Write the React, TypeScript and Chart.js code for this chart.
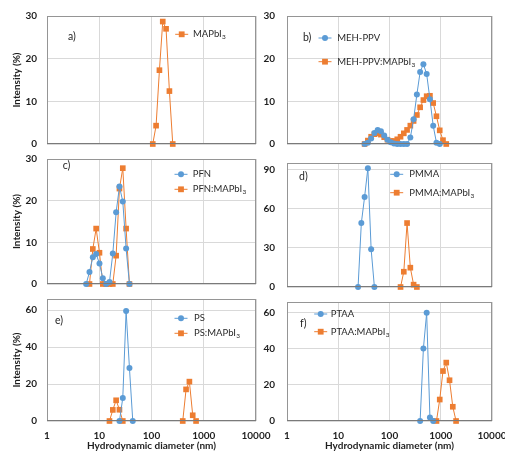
import React, { useEffect, useRef } from "react";
import { Chart, registerables } from "chart.js";
Chart.register(...registerables);

// ---------- data ----------
const xTicks = [1, 10, 100, 1000, 10000];
const yTicks30 = [0, 10, 20, 30];
const yTicks90 = [0, 30, 60, 90];
const yTicks60 = [0, 20, 40, 60];

// a) MAPbI3
const aX = [105.7, 122.4, 141.8, 164.2, 190.1, 220.2, 255.0];
const aMAPbI3 = [0, 4.3, 17.3, 28.7, 27.0, 12.4, 0];

// b) MEH-PPV
const bMehX = [32.67, 37.84, 43.82, 50.75, 58.77, 68.06, 78.82, 91.28, 105.7, 122.4, 141.8, 164.2, 190.1, 220.2, 255.0, 295.3, 342.0, 396.1, 458.7, 531.2, 615.1, 712.4, 825.0, 955.4];
const bMeh = [0, 0.3, 1.3, 2.6, 3.3, 3.0, 2.0, 1.0, 0.4, 0.1, 0, 0, 0, 0, 1.5, 5.8, 11.6, 16.9, 18.7, 16.4, 10.5, 4.3, 0.3, 0];
const bMehMAPbI3X = [32.67, 37.84, 43.82, 50.75, 58.77, 68.06, 78.82, 91.28, 105.7, 122.4, 141.8, 164.2, 190.1, 220.2, 255.0, 295.3, 342.0, 396.1, 458.7, 531.2, 615.1, 712.4, 825.0, 955.4, 1106, 1281];
const bMehMAPbI3 = [0, 0.8, 1.7, 2.3, 2.5, 2.2, 1.6, 1.0, 0.7, 0.7, 1.1, 1.7, 2.5, 3.3, 4.3, 5.4, 6.8, 8.6, 10.3, 11.2, 11.3, 9.6, 6.5, 3.2, 0.9, 0];

// c) PFN
const cPfnX = [5.615, 6.503, 7.531, 8.721, 10.10, 11.70, 13.54, 15.69, 18.17, 21.04, 24.36, 28.21, 32.67, 37.84];
const cPfn = [0, 2.9, 6.4, 7.2, 4.9, 1.4, 0, 0.5, 7.3, 17.2, 23.4, 19.8, 8.5, 0];
const cPfnMAPbI3X = [6.503, 7.531, 8.721, 10.10, 11.70, 13.54, 15.69, 18.17, 21.04, 24.36, 28.21, 32.67, 37.84];
const cPfnMAPbI3 = [0, 8.4, 13.3, 7.5, 0, 0, 0, 0, 6.8, 22.9, 27.8, 13.3, 0];

// d) PMMA
const dPmmaX = [24.36, 28.21, 32.67, 37.84, 43.82, 50.75];
const dPmma = [0, 49, 69, 91, 29, 0];
const dPmmaMAPbI3X = [164.2, 190.1, 220.2, 255.0, 295.3, 342.0];
const dPmmaMAPbI3 = [0, 11.7, 49, 14.8, 1.8, 0];

// e) PS
const ePsX = [24.36, 28.21, 32.67, 37.84, 43.82];
const ePs = [0, 12.5, 59.5, 28.7, 0];
const ePsMAPbI3X = [15.69, 18.17, 21.04, 24.36, 28.21, 100, 396.1, 458.7, 531.2, 615.1, 712.4];
const ePsMAPbI3 = [0, 6.0, 11.2, 6.1, 0, null, 0, 17.1, 21.3, 3.1, 0];

// f) PTAA
const fPtaaX = [396.1, 458.7, 531.2, 615.1, 712.4];
const fPtaa = [0, 40.2, 60, 2, 0];
const fPtaaMAPbI3X = [825.0, 955.4, 1106, 1281, 1484, 1718, 1990];
const fPtaaMAPbI3 = [0, 11.9, 27.7, 32.4, 22.6, 7.9, 0];

// ---------- style ----------
const BLUE = "#5B9BD5";
const ORANGE = "#ED7D31";
const FONT = "Lato, 'Open Sans', sans-serif";
const TEXT = "#1f1f1f";

type Series = { label: string; x: number[]; y: (number | null)[]; color: string; shape: "circle" | "rect" };
const blue = (label: string, x: number[], y: (number | null)[]): Series => ({ label, x, y, color: BLUE, shape: "circle" });
const orange = (label: string, x: number[], y: (number | null)[]): Series => ({ label, x, y, color: ORANGE, shape: "rect" });

const LEFT = { left: 0, w: 272, padL: 0, padR: 16, yW: 47, yTitle: true, tickPad: 10 };
const RIGHT = { left: 262, w: 243, padL: 0, padR: 13, yW: 25, yTitle: false, tickPad: 12 };

const PANELS = [
  {
    col: LEFT, top: 0, h: 152, padT: 16, xH: 8, xLabels: false, yMax: 30, yTicks: yTicks30,
    series: [orange("MAPbI₃", aX, aMAPbI3)],
    legend: [{ mx: 181.7, my: 34.3, tx: 193 }], letter: { text: "a)", x: 68, y: 37 },
  },
  {
    col: RIGHT, top: 0, h: 152, padT: 16, xH: 8, xLabels: false, yMax: 30, yTicks: yTicks30,
    series: [blue("MEH-PPV", bMehX, bMeh), orange("MEH-PPV:MAPbI₃", bMehMAPbI3X, bMehMAPbI3)],
    legend: [{ mx: 325, my: 38, tx: 337.3 }, { mx: 325, my: 61.7, tx: 337.3 }], letter: { text: "b)", x: 303, y: 38 },
  },
  {
    col: LEFT, top: 150, h: 140, padT: 9, xH: 6, xLabels: false, yMax: 30, yTicks: yTicks30,
    series: [blue("PFN", cPfnX, cPfn), orange("PFN:MAPbI₃", cPfnMAPbI3X, cPfnMAPbI3)],
    legend: [{ mx: 181, my: 174.3, tx: 192.7 }, { mx: 181, my: 189.3, tx: 192.7 }], letter: { text: "c)", x: 62.7, y: 166 },
  },
  {
    col: RIGHT, top: 150, h: 142, padT: 13, xH: 5, xLabels: false, yMax: 95, yTicks: yTicks90,
    series: [blue("PMMA", dPmmaX, dPmma), orange("PMMA:MAPbI₃", dPmmaMAPbI3X, dPmmaMAPbI3)],
    legend: [{ mx: 396.7, my: 174.3, tx: 409.3 }, { mx: 396.7, my: 192.7, tx: 409.3 }], letter: { text: "d)", x: 299, y: 176.7 },
  },
  {
    col: LEFT, top: 290, h: 163, padT: 9, xH: 32, xLabels: true, yMax: 66, yTicks: yTicks60,
    series: [blue("PS", ePsX, ePs), orange("PS:MAPbI₃", ePsMAPbI3X, ePsMAPbI3)],
    legend: [{ mx: 181, my: 318.3, tx: 194 }, { mx: 181, my: 333.3, tx: 194 }], letter: { text: "e)", x: 55, y: 320.7 },
  },
  {
    col: RIGHT, top: 292, h: 161, padT: 10, xH: 32, xLabels: true, yMax: 66, yTicks: yTicks60,
    series: [blue("PTAA", fPtaaX, fPtaa), orange("PTAA:MAPbI₃", fPtaaMAPbI3X, fPtaaMAPbI3)],
    legend: [{ mx: 320.7, my: 314, tx: 330.7 }, { mx: 320.7, my: 331.7, tx: 330.7 }], letter: { text: "f)", x: 300, y: 323.3 },
  },
];

function drawMarker(ctx: CanvasRenderingContext2D, s: Series, x: number, y: number) {
  ctx.fillStyle = s.color;
  ctx.beginPath();
  if (s.shape === "circle") ctx.arc(x, y, 3, 0, Math.PI * 2);
  else ctx.rect(x - 2.9, y - 2.9, 5.8, 5.8);
  ctx.fill();
}

function Panel({ p }: { p: any }) {
  const ref = useRef<HTMLCanvasElement>(null);
  useEffect(() => {
    const offX = p.col.left;
    const offY = p.top;
    const overlay = {
      id: "overlay",
      afterDraw(chart: any) {
        const ctx: CanvasRenderingContext2D = chart.ctx;
        const a = chart.chartArea;
        ctx.save();
        ctx.strokeStyle = "#959595";
        ctx.lineWidth = 1;
        ctx.strokeRect(Math.round(a.left) + 0.5, Math.round(a.top) + 0.5, Math.round(a.right - a.left) - 1, Math.round(a.bottom - a.top) - 1);
        ctx.strokeStyle = "#7a7a7a";
        ctx.beginPath();
        ctx.moveTo(a.left, Math.round(a.bottom) - 0.5);
        ctx.lineTo(a.right, Math.round(a.bottom) - 0.5);
        ctx.stroke();
        // letter
        ctx.fillStyle = TEXT;
        ctx.font = `10.5px ${FONT}`;
        ctx.textBaseline = "middle";
        ctx.textAlign = "left";
        ctx.fillText(p.letter.text, p.letter.x - offX, p.letter.y - offY);
        // legend
        p.series.forEach((s: Series, i: number) => {
          const L = p.legend[i];
          const mx = L.mx - offX, my = L.my - offY;
          ctx.strokeStyle = s.color;
          ctx.lineWidth = 1;
          ctx.beginPath();
          ctx.moveTo(mx - 6.5, my);
          ctx.lineTo(mx + 6.5, my);
          ctx.stroke();
          drawMarker(ctx, s, mx, my);
          ctx.fillStyle = "#2a2a2a";
          ctx.font = `9.5px ${FONT}`;
          const parts = s.label.split("₃");
          let tx = L.tx - offX;
          ctx.fillText(parts[0], tx, my);
          if (s.label.includes("₃")) {
            tx += ctx.measureText(parts[0]).width + 0.3;
            ctx.font = `6.5px ${FONT}`;
            ctx.fillText("3", tx, my + 3);
          }
        });
        ctx.restore();
      },
    };
    const chart = new Chart(ref.current!, {
      type: "line",
      data: {
        datasets: p.series.map((s: Series) => ({
          label: s.label,
          data: s.x.map((x, i) => ({ x, y: s.y[i] })),
          borderColor: s.color,
          backgroundColor: s.color,
          borderWidth: 1,
          pointStyle: s.shape,
          pointRadius: s.shape === "rect" ? 4 : 3,
          pointBorderWidth: 0,
          pointBackgroundColor: s.color,
          tension: 0,
          spanGaps: false,
          clip: false,
        })),
      },
      options: {
        responsive: false,
        animation: false,
        devicePixelRatio: 1,
        events: [],
        layout: { padding: { left: p.col.padL, right: p.col.padR, top: p.padT, bottom: 0 } },
        plugins: { legend: { display: false }, tooltip: { enabled: false } },
        scales: {
          x: {
            type: "logarithmic",
            min: 1,
            max: 10000,
            border: { display: false },
            grid: { color: "#d9d9d9", drawTicks: false, lineWidth: 1 },
            afterBuildTicks: (sc: any) => { sc.ticks = xTicks.map((v) => ({ value: v })); },
            afterFit: (sc: any) => { sc.height = p.xH; sc.paddingLeft = 0; sc.paddingRight = 0; },
            ticks: {
              display: p.xLabels,
              autoSkip: false,
              maxRotation: 0,
              padding: 9,
              color: TEXT,
              font: { family: FONT, size: 10, weight: "bold" },
              callback: (v: any) => String(v),
            },
            title: {
              display: p.xLabels,
              text: "Hydrodynamic diameter (nm)",
              color: TEXT,
              padding: { top: 0, bottom: 1 },
              font: { family: FONT, size: 10, weight: "bold" },
            },
          },
          y: {
            type: "linear",
            min: 0,
            max: p.yMax,
            border: { display: false },
            grid: { color: "#d9d9d9", drawTicks: false, lineWidth: 1 },
            afterBuildTicks: (sc: any) => { sc.ticks = p.yTicks.map((v: number) => ({ value: v })); },
            afterFit: (sc: any) => { sc.width = p.col.yW; sc.paddingTop = 0; sc.paddingBottom = 0; },
            ticks: {
              padding: p.col.tickPad,
              color: TEXT,
              font: { family: FONT, size: 10, weight: "bold" },
            },
            title: {
              display: p.col.yTitle,
              text: "Intensity (%)",
              color: TEXT,
              padding: { top: 11, bottom: 0 },
              font: { family: FONT, size: 10, weight: "bold" },
            },
          },
        },
      },
      plugins: [overlay],
    } as any);
    return () => chart.destroy();
  }, []);
  return (
    <canvas
      ref={ref}
      width={p.col.w}
      height={p.h}
      style={{ position: "absolute", left: p.col.left, top: p.top, width: p.col.w, height: p.h }}
    />
  );
}

export default function App() {
  return (
    <div style={{ position: "absolute", left: 0, top: 0, width: 505, height: 453, background: "#fff", overflow: "hidden" }}>
      {PANELS.map((p, i) => (
        <Panel key={i} p={p} />
      ))}
    </div>
  );
}
